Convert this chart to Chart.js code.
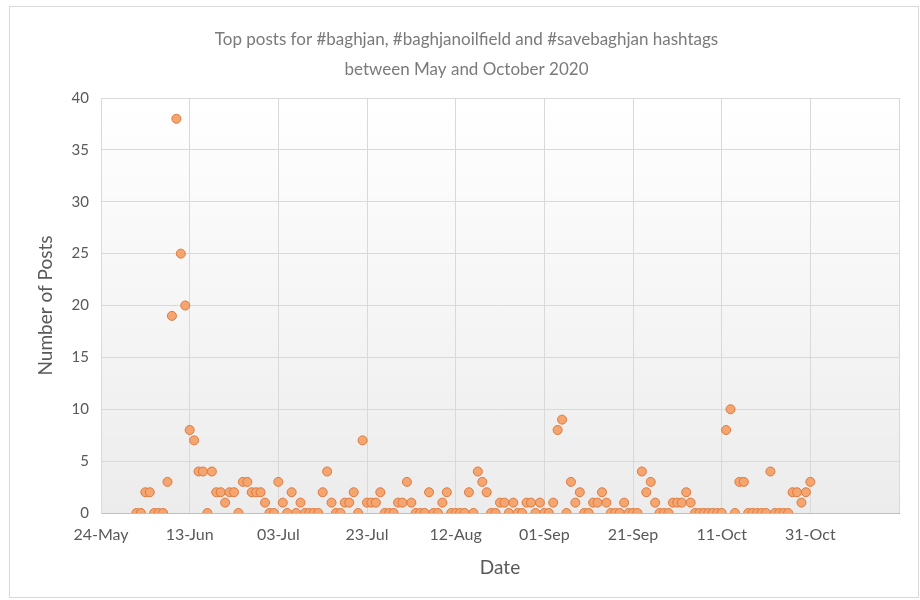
<!DOCTYPE html>
<html>
<head>
<meta charset="utf-8">
<script src="https://cdn.jsdelivr.net/npm/chart.js@4"></script>
<style>
    body { margin: 0; background: #fff; }
    #frame { position: absolute; left: 9px; top: 6px; width: 908px; height: 590px; border: 1px solid #d9d9d9; }
    #wrap { position: absolute; left: 0; top: 0; width: 920px; height: 600px; }
</style>
</head>
<body>
<div id="frame"></div>
<div id="wrap"><canvas id="postsChart" width="920" height="600"></canvas></div>
<script>
// x axis runs from 24-May-2020 in day steps; posts are daily from 1-Jun-2020
const axisStart = new Date(2020, 4, 24);
const firstPostDate = new Date(2020, 5, 1);
const tickLabels = ['24-May', '13-Jun', '03-Jul', '23-Jul', '12-Aug', '01-Sep', '21-Sep', '11-Oct', '31-Oct', ''];
const yTicks = [0, 5, 10, 15, 20, 25, 30, 35, 40];

// number of posts per day, 1-Jun .. 31-Oct
const juneP = [0, 0, 2, 2, 0, 0, 0, 3, 19, 38, 25, 20, 8, 7, 4, 4, 0, 4, 2, 2, 1, 2, 2, 0, 3, 3, 2, 2, 2, 1];
const julyP = [0, 0, 3, 1, 0, 2, 0, 1, 0, 0, 0, 0, 2, 4, 1, 0, 0, 1, 1, 2, 0, 7, 1, 1, 1, 2, 0, 0, 0, 1, 1];
const augP = [3, 1, 0, 0, 0, 2, 0, 0, 1, 2, 0, 0, 0, 0, 2, 0, 4, 3, 2, 0, 0, 1, 1, 0, 1, 0, 0, 1, 1, 0, 1];
const sepP = [0, 0, 1, 8, 9, 0, 3, 1, 2, 0, 0, 1, 1, 2, 1, 0, 0, 0, 1, 0, 0, 0, 4, 2, 3, 1, 0, 0, 0, 1];
const octP = [1, 1, 2, 1, 0, 0, 0, 0, 0, 0, 0, 8, 10, 0, 3, 3, 0, 0, 0, 0, 0, 4, 0, 0, 0, 0, 2, 2, 1, 2, 3];

const posts = [...juneP, ...julyP, ...augP, ...sepP, ...octP];
const dayMs = 24 * 3600 * 1000;
const offset0 = Math.round((firstPostDate - axisStart) / dayMs);
const points = posts.map((v, i) => ({ x: offset0 + i, y: v }));

const plotShade = {
    id: 'plotShade',
    beforeDraw(chart) {
        const { ctx, chartArea: a } = chart;
        const g = ctx.createLinearGradient(0, a.top, 0, a.bottom);
        g.addColorStop(0, '#ffffff');
        g.addColorStop(1, '#ececec');
        ctx.save();
        ctx.fillStyle = g;
        ctx.fillRect(a.left, a.top, a.right - a.left, a.bottom - a.top);
        ctx.restore();
    }
};

const font = 'Lato, "Open Sans", sans-serif';

new Chart(document.getElementById('postsChart'), {
    type: 'scatter',
    data: {
        datasets: [{
            label: 'Posts',
            data: points,
            backgroundColor: '#F5A56F',
            borderColor: '#DE7A3E',
            borderWidth: 1,
            pointRadius: 4.5,
            pointHoverRadius: 4.5
        }]
    },
    plugins: [plotShade],
    options: {
        responsive: false,
        animation: false,
        layout: { padding: { left: 34, right: 21, top: 25, bottom: 21 } },
        plugins: {
            legend: { display: false },
            tooltip: { enabled: false },
            title: {
                display: true,
                text: ['Top posts for #baghjan, #baghjanoilfield and #savebaghjan hashtags', 'between May and October 2020'],
                color: '#7a7a7a',
                font: { family: font, size: 17, weight: 'normal', lineHeight: 30 / 17 },
                padding: { top: 0, bottom: 13 }
            }
        },
        scales: {
            x: {
                type: 'linear',
                min: 0,
                max: 180,
                afterBuildTicks(axis) {
                    axis.ticks = tickLabels.map((t, i) => ({ value: i * 20 }));
                },
                ticks: {
                    callback: (v, i) => tickLabels[i],
                    color: '#595959',
                    font: { family: font, size: 16 },
                    padding: 12,
                    maxRotation: 0
                },
                grid: { color: '#d9d9d9', drawTicks: false },
                border: { color: '#bfbfbf' },
                title: {
                    display: true,
                    text: 'Date',
                    color: '#595959',
                    font: { family: font, size: 19 },
                    padding: { top: 0, bottom: 0 }
                }
            },
            y: {
                min: 0,
                max: 40,
                afterBuildTicks(axis) {
                    axis.ticks = yTicks.map(v => ({ value: v }));
                },
                afterFit(axis) { axis.width = 67; },
                ticks: {
                    color: '#595959',
                    font: { family: font, size: 15 },
                    padding: 12
                },
                grid: { color: '#d9d9d9', drawTicks: false },
                border: { color: '#d9d9d9' },
                title: {
                    display: true,
                    text: 'Number of Posts',
                    color: '#595959',
                    font: { family: font, size: 19 },
                    padding: { top: 0, bottom: 0 }
                }
            }
        }
    }
});
</script>
</body>
</html>
